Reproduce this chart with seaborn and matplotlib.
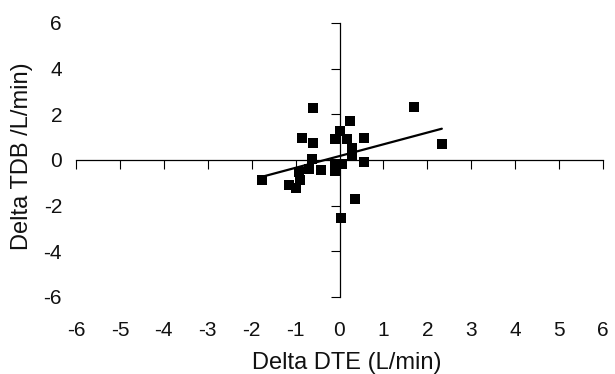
import numpy as np
import pandas as pd
import matplotlib
matplotlib.use('Agg')
import matplotlib.pyplot as plt
import seaborn as sns

# delta values
delta_dte = [-1.76, -0.60, 1.69, 2.33, 0.23, 0.00, -0.86, -0.60, -0.11, 0.17,
             0.56, 0.28, 0.28, -0.62, 0.56, -0.11, 0.05, -0.10, -0.69, -0.43,
             -0.92, -0.90, -1.15, -0.99, 0.36, 0.04]
delta_tdb = [-0.89, 2.28, 2.30, 0.70, 1.69, 1.27, 0.96, 0.76, 0.90, 0.90,
             0.96, 0.52, 0.18, 0.03, -0.07, -0.19, -0.19, -0.49, -0.41, -0.44,
             -0.53, -0.86, -1.11, -1.24, -1.69, -2.55]
x_ticks = list(range(-6, 7))
y_ticks = list(range(-6, 7, 2))

df = pd.DataFrame({'dte': delta_dte, 'tdb': delta_tdb})

sns.set_style('white')
plt.rcParams['font.family'] = ['Liberation Sans', 'DejaVu Sans']
plt.rcParams['axes.unicode_minus'] = False

fig = plt.figure(figsize=(6.15, 3.74), dpi=100)
pos = [76/615, 1-297/374, (603-76)/615, (297-23)/374]

# axes just for the tick labels (sit at the outer edges like excel "low")
lab = fig.add_axes(pos, frameon=False)
lab.set_xlim(-6, 6)
lab.set_ylim(-6, 6)
lab.set_xticks(x_ticks)
lab.set_yticks(y_ticks)
lab.tick_params(length=0, labelsize=15, colors='#111111')
lab.tick_params(axis='x', pad=17)
lab.tick_params(axis='y', pad=10)

ax = fig.add_axes(pos)
ax.patch.set_alpha(0)
sns.scatterplot(data=df, x='dte', y='tdb', marker='s', color='black',
                s=50, edgecolor='black', linewidth=0, ax=ax, zorder=3)
sns.regplot(data=df, x='dte', y='tdb', scatter=False, ci=None, truncate=True,
            color='black', line_kws={'linewidth': 1.6}, ax=ax)

ax.set_xlim(-6, 6)
ax.set_ylim(-6, 6)
for side in ['top', 'right']:
    ax.spines[side].set_visible(False)
for side in ['left', 'bottom']:
    ax.spines[side].set_position(('data', 0))
    ax.spines[side].set_color('black')
    ax.spines[side].set_linewidth(0.9)
ax.set_xticks([t for t in x_ticks if t != 0])
ax.set_yticks([t for t in y_ticks if t != 0])
ax.tick_params(direction='out', length=6.5, width=0.8, color='black',
               labelbottom=False, labelleft=False, bottom=True, left=True)
ax.set_xlabel('')
ax.set_ylabel('')

fig.text(347/615, 0.5/374, 'Delta DTE (L/min)', ha='center', va='bottom',
         fontsize=17, color='#111111')
fig.text(22/615, 1-156/374, 'Delta TDB /L/min)', ha='center', va='center',
         rotation=90, fontsize=17, color='#111111')

fig.savefig('out.png', dpi=100)
